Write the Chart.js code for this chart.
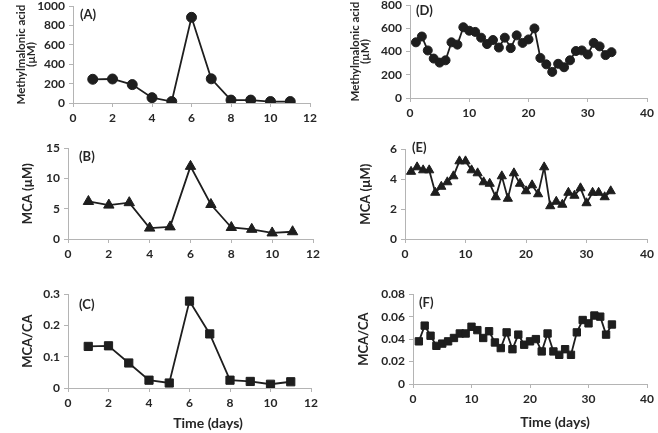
<!DOCTYPE html>
<html>
<head>
<meta charset="utf-8">
<script src="https://cdn.jsdelivr.net/npm/chart.js@4.4.0/dist/chart.umd.min.js"></script>
<style>
body { margin: 0; background: #fff; width: 658px; height: 433px; position: relative; overflow: hidden; }
canvas { position: absolute; }
</style>
</head>
<body>
<canvas id="panelA"></canvas>
<canvas id="panelB"></canvas>
<canvas id="panelC"></canvas>
<canvas id="panelD"></canvas>
<canvas id="panelE"></canvas>
<canvas id="panelF"></canvas>
<script>
// días (eje x)
const diasCorto = [1, 2, 3, 4, 5, 6, 7, 8, 9, 10, 11];
const diasLargo = [1, 2, 3, 4, 5, 6, 7, 8, 9, 10, 11, 12, 13, 14, 15, 16, 17,
                   18, 19, 20, 21, 22, 23, 24, 25, 26, 27, 28, 29, 30, 31, 32, 33, 34];

// (A) / (D) methylmalonic acid, uM
const mmaCorto = [245, 248, 190, 55, 15, 885, 250, 30, 30, 15, 15];
const mmaLargo = [480, 530, 410, 340, 305, 325, 480, 460, 610, 580, 570, 520, 465, 500, 435, 520, 430,
                  540, 475, 505, 600, 345, 290, 225, 295, 265, 325, 405, 410, 375, 475, 445, 370, 395];

// (B) / (E) MCA, uM
const mcaCorto = [6.2, 5.6, 6.0, 1.8, 2.0, 12.0, 5.7, 1.9, 1.6, 1.0, 1.2];
const mcaLargo = [4.5, 4.8, 4.6, 4.6, 3.1, 3.5, 3.8, 4.2, 5.2, 5.2, 4.6, 4.4, 3.8, 3.7, 2.8, 4.2, 2.7,
                  4.4, 3.7, 3.2, 3.6, 3.0, 4.8, 2.2, 2.5, 2.3, 3.1, 2.9, 3.4, 2.4, 3.1, 3.1, 2.8, 3.2];

// (C) / (F) MCA/CA
const ratioCorto = [0.133, 0.135, 0.08, 0.025, 0.016, 0.278, 0.173, 0.025, 0.021, 0.012, 0.02];
const ratioLargo = [0.038, 0.052, 0.043, 0.034, 0.036, 0.038, 0.041, 0.045, 0.045, 0.051, 0.048, 0.041, 0.047, 0.037, 0.032, 0.046, 0.031,
                    0.044, 0.035, 0.038, 0.040, 0.029, 0.045, 0.029, 0.026, 0.031, 0.026, 0.046, 0.057, 0.054, 0.061, 0.060, 0.044, 0.053];

const tinta = '#1e1e1e';
const gris = '#b4b4b4';
const texto = '#262626';

Chart.defaults.font.family = 'Lato';

// etiqueta (A)... y titulo "Time (days)"
const notas = {
    id: 'notas',
    afterDraw(chart, args, o) {
        const a = chart.chartArea;
        const ctx = chart.ctx;
        ctx.save();
        ctx.fillStyle = texto;
        ctx.textBaseline = 'middle';
        ctx.textAlign = 'left';
        ctx.font = 'bold 13px Lato';
        ctx.fillText(o.label, a.left + o.lx, a.top + o.ly);
        if (o.xTitle) {
            ctx.textAlign = 'center';
            ctx.font = 'bold 14px Lato';
            ctx.fillText(o.xTitle, a.left + o.tx, a.bottom + o.ty);
        }
        ctx.restore();
    }
};

// sin separador de miles, sin decimales sueltos
const numero = v => String(+v.toFixed(4));

function panel(id, pos, xs, ys, marca, ejeX, ejeY, tituloY, nota) {
    const cv = document.getElementById(id);
    cv.width = pos.w;
    cv.height = pos.h;
    cv.style.left = pos.x + 'px';
    cv.style.top = pos.y + 'px';
    return new Chart(cv, {
        type: 'scatter',
        data: {
            datasets: [{
                data: xs.map((x, i) => ({ x: x, y: ys[i] })),
                showLine: true,
                borderColor: tinta,
                borderWidth: 1.8,
                backgroundColor: tinta,
                pointStyle: marca.style,
                pointRadius: marca.r,
                pointBorderWidth: 1,
                pointBorderColor: tinta
            }]
        },
        options: {
            responsive: false,
            animation: false,
            layout: { padding: { left: 0, top: 10, right: pos.pr, bottom: pos.pb } },
            plugins: {
                legend: { display: false },
                tooltip: { enabled: false },
                notas: nota
            },
            scales: {
                x: {
                    type: 'linear',
                    min: 0,
                    max: ejeX.max,
                    ticks: { stepSize: ejeX.step, color: texto, font: { size: 12, weight: 'bold' }, padding: 4, maxRotation: 0, callback: numero },
                    grid: { drawOnChartArea: false, drawTicks: true, tickLength: 4, color: gris },
                    border: { display: true, color: gris },
                    afterFit: s => { s.height = 30; }
                },
                y: {
                    min: 0,
                    max: ejeY.max,
                    ticks: { stepSize: ejeY.step, color: texto, font: { size: 12, weight: 'bold' }, padding: 4, callback: numero },
                    grid: { drawOnChartArea: false, drawTicks: true, tickLength: 4, color: gris },
                    border: { display: true, color: gris },
                    title: {
                        display: true,
                        text: tituloY,
                        color: texto,
                        font: { size: pos.ts, weight: 'bold', lineHeight: 0.9 },
                        padding: 0
                    },
                    afterFit: s => { s.width = pos.yw; }
                }
            }
        },
        plugins: [notas]
    });
}

const tituloMMA = ['Methylmalonic acid', '(\u00b5M)'];
const tituloMCA = 'MCA (\u00b5M)';
const tituloRatio = 'MCA/CA';

const panelA = panel('panelA', { x: 16, y: -5, w: 309, h: 138, yw: 57, pr: 15, pb: 0, ts: 11.5 },
    diasCorto, mmaCorto, { style: 'circle', r: 5 }, { max: 12, step: 2 }, { max: 1000, step: 200 },
    tituloMMA, { label: '(A)', lx: 7, ly: 9 });

const panelB = panel('panelB', { x: 22, y: 137, w: 306, h: 132, yw: 46, pr: 15, pb: 0, ts: 13 },
    diasCorto, mcaCorto, { style: 'triangle', r: 6 }, { max: 12, step: 2 }, { max: 15, step: 5 },
    tituloMCA, { label: '(B)', lx: 11, ly: 9 });

const panelC = panel('panelC', { x: 22, y: 283, w: 304, h: 155, yw: 46, pr: 15, pb: 20, ts: 13 },
    diasCorto, ratioCorto, { style: 'rect', r: 5.8 }, { max: 12, step: 2 }, { max: 0.3, step: 0.1 },
    tituloRatio, { label: '(C)', lx: 11, ly: 11, xTitle: 'Time (days)', tx: 140, ty: 35 });

const panelD = panel('panelD', { x: 350, y: -6, w: 308, h: 134, yw: 60, pr: 10, pb: 0, ts: 11.5 },
    diasLargo, mmaLargo, { style: 'circle', r: 4.5 }, { max: 40, step: 10 }, { max: 800, step: 200 },
    tituloMMA, { label: '(D)', lx: 6, ly: 6 });

const panelE = panel('panelE', { x: 360, y: 138, w: 298, h: 131, yw: 45, pr: 6, pb: 0, ts: 13 },
    diasLargo, mcaLargo, { style: 'triangle', r: 5.3 }, { max: 40, step: 10 }, { max: 6, step: 2 },
    tituloMCA, { label: '(E)', lx: 7, ly: -1 });

const panelF = panel('panelF', { x: 358, y: 283, w: 300, h: 151, yw: 55, pr: 9, pb: 20, ts: 13 },
    diasLargo, ratioLargo, { style: 'rect', r: 5.2 }, { max: 40, step: 10 }, { max: 0.08, step: 0.02 },
    tituloRatio, { label: '(F)', lx: 6, ly: 9, xTitle: 'Time (days)', tx: 142, ty: 38 });
</script>
</body>
</html>
